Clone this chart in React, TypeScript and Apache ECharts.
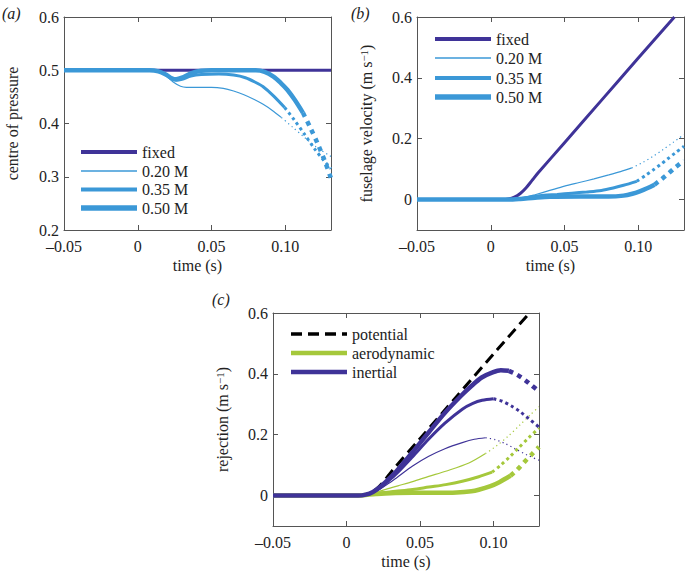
import { useEffect, useRef } from "react";
import * as echarts from "echarts";

// ---------------- data ----------------
const xTickVals = [-0.05, 0, 0.05, 0.1];
const cpTickVals = [0.2, 0.3, 0.4, 0.5, 0.6];
const velTickVals = [0, 0.2, 0.4, 0.6];
const legendAB = ["fixed", "0.20 M", "0.35 M", "0.50 M"];
const legendC = ["potential", "aerodynamic", "inertial"];

// (a) centre of pressure
const cpFixed = [[-0.05, 0.5], [0.131, 0.5]];
const cp020 = [[-0.05, 0.5], [0.005, 0.5], [0.012, 0.499], [0.018, 0.492], [0.024, 0.478], [0.029, 0.47], [0.033, 0.468], [0.04, 0.468], [0.05, 0.468], [0.058, 0.466], [0.065, 0.461], [0.072, 0.454], [0.079, 0.445], [0.085, 0.436], [0.091, 0.425], [0.0975, 0.411]];
const cp020Dot = [[0.0975, 0.411], [0.105, 0.393], [0.113, 0.374], [0.121, 0.356], [0.131, 0.338]];
const cp035 = [[-0.05, 0.5], [0.008, 0.5], [0.014, 0.498], [0.019, 0.492], [0.023, 0.484], [0.026, 0.481], [0.03, 0.483], [0.036, 0.489], [0.043, 0.492], [0.055, 0.493], [0.065, 0.491], [0.073, 0.486], [0.08, 0.477], [0.085, 0.469], [0.092, 0.452], [0.0996, 0.43]];
const cp035Dot = [[0.0996, 0.43], [0.106, 0.407], [0.113, 0.38], [0.12, 0.352], [0.126, 0.331], [0.131, 0.315]];
const cp050 = [[-0.05, 0.5], [0.008, 0.5], [0.014, 0.498], [0.019, 0.492], [0.023, 0.485], [0.026, 0.483], [0.03, 0.486], [0.036, 0.494], [0.043, 0.499], [0.05, 0.5], [0.08, 0.5], [0.086, 0.497], [0.092, 0.488], [0.097, 0.476], [0.1015, 0.463], [0.1065, 0.444], [0.112, 0.42]];
const cp050Dot = [[0.112, 0.42], [0.117, 0.392], [0.122, 0.362], [0.127, 0.328], [0.131, 0.297]];

// (b) fuselage velocity
const velFixed = [[-0.05, 0], [0.008, 0], [0.012, 0.002], [0.016, 0.008], [0.02, 0.02], [0.024, 0.039], [0.028, 0.063], [0.032, 0.087], [0.05, 0.187], [0.075, 0.326], [0.1, 0.465], [0.1245, 0.6]];
const vel020 = [[-0.05, 0], [0.012, 0], [0.018, 0.002], [0.024, 0.008], [0.03, 0.016], [0.04, 0.03], [0.05, 0.044], [0.06, 0.056], [0.07, 0.068], [0.08, 0.081], [0.088, 0.092], [0.0956, 0.104]];
const vel020Dot = [[0.0956, 0.104], [0.103, 0.122], [0.11, 0.142], [0.117, 0.165], [0.124, 0.189], [0.131, 0.214]];
const vel035 = [[-0.05, 0], [0.012, 0], [0.02, 0.003], [0.028, 0.009], [0.036, 0.014], [0.045, 0.017], [0.055, 0.021], [0.065, 0.025], [0.075, 0.03], [0.083, 0.038], [0.09, 0.047], [0.099, 0.06]];
const vel035Dot = [[0.099, 0.06], [0.105, 0.08], [0.11, 0.097], [0.115, 0.115], [0.12, 0.134], [0.125, 0.153], [0.131, 0.175]];
const vel050 = [[-0.05, 0], [0.012, 0], [0.02, 0.002], [0.03, 0.006], [0.04, 0.009], [0.06, 0.01], [0.08, 0.01], [0.09, 0.013], [0.096, 0.019], [0.101, 0.027], [0.106, 0.037], [0.111, 0.049]];
const vel050Dot = [[0.111, 0.049], [0.115, 0.064], [0.12, 0.084], [0.125, 0.105], [0.131, 0.128]];

// (c) rejection
const potential = [[-0.05, 0], [0.008, 0], [0.012, 0.002], [0.016, 0.008], [0.02, 0.02], [0.024, 0.039], [0.028, 0.063], [0.032, 0.087], [0.05, 0.187], [0.075, 0.326], [0.1, 0.465], [0.1245, 0.6]];
const aero020 = [[-0.05, 0], [0.008, 0], [0.013, 0.002], [0.018, 0.007], [0.025, 0.018], [0.035, 0.032], [0.045, 0.046], [0.056, 0.063], [0.0675, 0.08], [0.0833, 0.107], [0.0946, 0.138]];
const aero020Dot = [[0.0946, 0.138], [0.102, 0.163], [0.11, 0.195], [0.118, 0.232], [0.125, 0.265], [0.131, 0.292]];
const aero035 = [[-0.05, 0], [0.008, 0], [0.013, 0.002], [0.02, 0.007], [0.0335, 0.014], [0.045, 0.02], [0.0561, 0.028], [0.0675, 0.036], [0.0788, 0.047], [0.09, 0.062], [0.0991, 0.077]];
const aero035Dot = [[0.0991, 0.077], [0.105, 0.1], [0.111, 0.127], [0.117, 0.156], [0.124, 0.19], [0.131, 0.222]];
const aero050 = [[-0.05, 0], [0.008, 0], [0.013, 0.002], [0.02, 0.005], [0.03, 0.008], [0.045, 0.009], [0.06, 0.009], [0.075, 0.01], [0.085, 0.014], [0.09, 0.019], [0.098, 0.031], [0.104, 0.044], [0.1116, 0.065]];
const aero050Dot = [[0.1116, 0.065], [0.116, 0.084], [0.121, 0.11], [0.126, 0.135], [0.131, 0.16]];
const inert020 = [[-0.05, 0], [0.008, 0], [0.013, 0.002], [0.018, 0.009], [0.023, 0.022], [0.028, 0.038], [0.034, 0.058], [0.045, 0.097], [0.056, 0.129], [0.067, 0.154], [0.0788, 0.174], [0.087, 0.185], [0.0946, 0.19]];
const inert020Dot = [[0.0946, 0.19], [0.101, 0.184], [0.108, 0.171], [0.115, 0.153], [0.123, 0.133], [0.131, 0.116]];
const inert035 = [[-0.05, 0], [0.008, 0], [0.013, 0.003], [0.018, 0.011], [0.023, 0.026], [0.028, 0.046], [0.034, 0.072], [0.045, 0.128], [0.056, 0.186], [0.067, 0.238], [0.0788, 0.284], [0.086, 0.303], [0.0923, 0.313], [0.1, 0.318]];
const inert035Dot = [[0.1, 0.318], [0.106, 0.31], [0.112, 0.295], [0.118, 0.276], [0.124, 0.253], [0.131, 0.225]];
const inert050 = [[-0.05, 0], [0.008, 0], [0.013, 0.003], [0.018, 0.012], [0.023, 0.029], [0.028, 0.051], [0.034, 0.08], [0.045, 0.143], [0.056, 0.208], [0.067, 0.272], [0.078, 0.328], [0.085, 0.36], [0.092, 0.388], [0.099, 0.404], [0.105, 0.412], [0.1105, 0.41]];
const inert050Dot = [[0.1105, 0.41], [0.115, 0.4], [0.12, 0.385], [0.125, 0.366], [0.131, 0.342]];

// ---------------- styles ----------------
const PURPLE = "#3f3398";
const BLUE = "#3b98d7";
const GREEN = "#a5c83b";
const BLACK = "#000000";
const AX = "#555555";
const TXT = "#222222";
const FONT = "Liberation Serif";
const FS = 16;

const fmtX = (v: number) => (Math.abs(v) < 1e-9 ? "0" : (v < 0 ? "\u2013" : "") + Math.abs(v).toFixed(2));
const fmtCp = (v: number) => v.toFixed(1);
const fmtVel = (v: number) => (Math.abs(v) < 1e-9 ? "0" : v.toFixed(1));

const supRich = { sup: { fontSize: 11, fontFamily: FONT, color: TXT, verticalAlign: "top", padding: [0, 0, 6, 0] } };

function xAxes(gi: number, name: string) {
  const common = {
    type: "value",
    gridIndex: gi,
    min: -0.05,
    max: 0.131,
    splitLine: { show: false },
    axisLine: { show: true, onZero: false, lineStyle: { color: AX, width: 1 } },
    axisTick: { show: true, inside: true, length: 5, customValues: xTickVals, lineStyle: { color: AX, width: 1 } },
  };
  return [
    {
      ...common,
      position: "bottom",
      axisLabel: { show: true, customValues: xTickVals, formatter: fmtX, margin: 8, fontFamily: FONT, fontSize: FS, color: TXT },
      name,
      nameLocation: "middle",
      nameGap: 27,
      nameMoveOverlap: false,
      nameTextStyle: { fontFamily: FONT, fontSize: FS, color: TXT },
    },
    { ...common, position: "top", axisLabel: { show: false } },
  ];
}

function yAxes(gi: number, min: number, max: number, ticks: number[], fmt: (v: number) => string, name: string, gap: number) {
  const common = {
    type: "value",
    gridIndex: gi,
    min,
    max,
    splitLine: { show: false },
    axisLine: { show: true, onZero: false, lineStyle: { color: AX, width: 1 } },
    axisTick: { show: true, inside: true, length: 5, customValues: ticks, lineStyle: { color: AX, width: 1 } },
  };
  return [
    {
      ...common,
      position: "left",
      axisLabel: { show: true, customValues: ticks, formatter: fmt, margin: 5, fontFamily: FONT, fontSize: FS, color: TXT },
      name,
      nameLocation: "middle",
      nameRotate: 90,
      nameGap: gap,
      nameMoveOverlap: false,
      nameTextStyle: { fontFamily: FONT, fontSize: FS, color: TXT, rich: supRich },
    },
    { ...common, position: "right", axisLabel: { show: false } },
  ];
}

function ln(name: string, data: number[][], gi: number, color: string, width: number, dash?: number[]) {
  return {
    type: "line",
    name,
    data,
    xAxisIndex: gi * 2,
    yAxisIndex: gi * 2,
    symbol: "none",
    showSymbol: false,
    smooth: 0.3,
    silent: true,
    clip: true,
    lineStyle: { color, width, type: dash ? dash : "solid", cap: "butt" },
  };
}

const dot = (w: number) => (w < 2 ? [1.2, 3.2] : [w, w * 1.1]);

function legendGraphic(x: number, ys: number[], labels: string[], styles: { color: string; width: number; dash?: number[] }[]) {
  const out: any[] = [];
  labels.forEach((lab, i) => {
    const s = styles[i];
    out.push({
      type: "line",
      silent: true,
      shape: { x1: x, y1: ys[i], x2: x + 56, y2: ys[i] },
      style: { stroke: s.color, lineWidth: s.width, lineDash: s.dash || null },
    });
    out.push({
      type: "text",
      silent: true,
      x: x + 61,
      y: ys[i],
      style: { text: lab, fontFamily: FONT, fontSize: FS, fill: TXT, verticalAlign: "middle", align: "left" },
    });
  });
  return out;
}

function panelLabel(text: string, x: number, y: number) {
  return {
    type: "text",
    silent: true,
    x,
    y,
    style: { text, fontFamily: FONT, fontSize: FS, fontStyle: "italic", fill: TXT, verticalAlign: "middle", align: "left" },
  };
}

export default function App() {
  const ref = useRef<HTMLDivElement>(null);
  useEffect(() => {
    if (!ref.current) return;
    const chart = echarts.init(ref.current, null, { renderer: "svg" });
    const abStyles = [
      { color: PURPLE, width: 4 },
      { color: BLUE, width: 1.3 },
      { color: BLUE, width: 4 },
      { color: BLUE, width: 5.5 },
    ];
    const cStyles = [
      { color: BLACK, width: 3.5, dash: [11, 6] },
      { color: GREEN, width: 4.5 },
      { color: PURPLE, width: 4.5 },
    ];
    const option: any = {
      animation: false,
      backgroundColor: "#ffffff",
      textStyle: { fontFamily: FONT },
      grid: [
        { left: 64, top: 17, width: 267, height: 213, outerBoundsMode: "none", containLabel: false },
        { left: 417, top: 17, width: 267, height: 213, outerBoundsMode: "none", containLabel: false },
        { left: 273, top: 313, width: 266, height: 213, outerBoundsMode: "none", containLabel: false },
      ],
      xAxis: [...xAxes(0, "time (s)"), ...xAxes(1, "time (s)"), ...xAxes(2, "time (s)")],
      yAxis: [
        ...yAxes(0, 0.2, 0.6, cpTickVals, fmtCp, "centre of pressure", 44),
        ...yAxes(1, -0.1, 0.6, velTickVals, fmtVel, "fuselage velocity (m s{sup|\u22121})", 42),
        ...yAxes(2, -0.1, 0.6, velTickVals, fmtVel, "rejection (m s{sup|\u22121})", 42),
      ],
      series: [
        // (a)
        ln("fixed", cpFixed, 0, PURPLE, 3),
        ln("0.20 M", cp020, 0, BLUE, 1.2),
        ln("0.20 M dotted", cp020Dot, 0, BLUE, 1.2, dot(1.2)),
        ln("0.35 M", cp035, 0, BLUE, 3),
        ln("0.35 M dotted", cp035Dot, 0, BLUE, 3, dot(3)),
        ln("0.50 M", cp050, 0, BLUE, 4.5),
        ln("0.50 M dotted", cp050Dot, 0, BLUE, 4.5, dot(4.5)),
        // (b)
        ln("fixed", velFixed, 1, PURPLE, 3),
        ln("0.20 M", vel020, 1, BLUE, 1.2),
        ln("0.20 M dotted", vel020Dot, 1, BLUE, 1.2, dot(1.2)),
        ln("0.35 M", vel035, 1, BLUE, 3),
        ln("0.35 M dotted", vel035Dot, 1, BLUE, 3, dot(3)),
        ln("0.50 M", vel050, 1, BLUE, 4.5),
        ln("0.50 M dotted", vel050Dot, 1, BLUE, 4.5, dot(4.5)),
        // (c)
        ln("potential", potential, 2, BLACK, 3, [11, 6]),
        ln("aerodynamic 0.20 M", aero020, 2, GREEN, 1.2),
        ln("aerodynamic 0.20 M dotted", aero020Dot, 2, GREEN, 1.2, dot(1.2)),
        ln("aerodynamic 0.35 M", aero035, 2, GREEN, 3),
        ln("aerodynamic 0.35 M dotted", aero035Dot, 2, GREEN, 3, dot(3)),
        ln("aerodynamic 0.50 M", aero050, 2, GREEN, 4.5),
        ln("aerodynamic 0.50 M dotted", aero050Dot, 2, GREEN, 4.5, dot(4.5)),
        ln("inertial 0.20 M", inert020, 2, PURPLE, 1.2),
        ln("inertial 0.20 M dotted", inert020Dot, 2, PURPLE, 1.2, dot(1.2)),
        ln("inertial 0.35 M", inert035, 2, PURPLE, 3),
        ln("inertial 0.35 M dotted", inert035Dot, 2, PURPLE, 3, dot(3)),
        ln("inertial 0.50 M", inert050, 2, PURPLE, 4.5),
        ln("inertial 0.50 M dotted", inert050Dot, 2, PURPLE, 4.5, dot(4.5)),
      ],
      graphic: [
        ...legendGraphic(81, [152, 171, 189.5, 208], legendAB, abStyles),
        ...legendGraphic(435, [39, 58, 78, 97], legendAB, abStyles),
        ...legendGraphic(291, [334, 353, 372], legendC, cStyles),
        panelLabel("(a)", 2, 13),
        panelLabel("(b)", 351, 13),
        panelLabel("(c)", 212, 299),
      ],
    };
    chart.setOption(option);
    return () => chart.dispose();
  }, []);
  return <div ref={ref} style={{ position: "fixed", left: 0, top: 0, width: 686, height: 575 }} />;
}
